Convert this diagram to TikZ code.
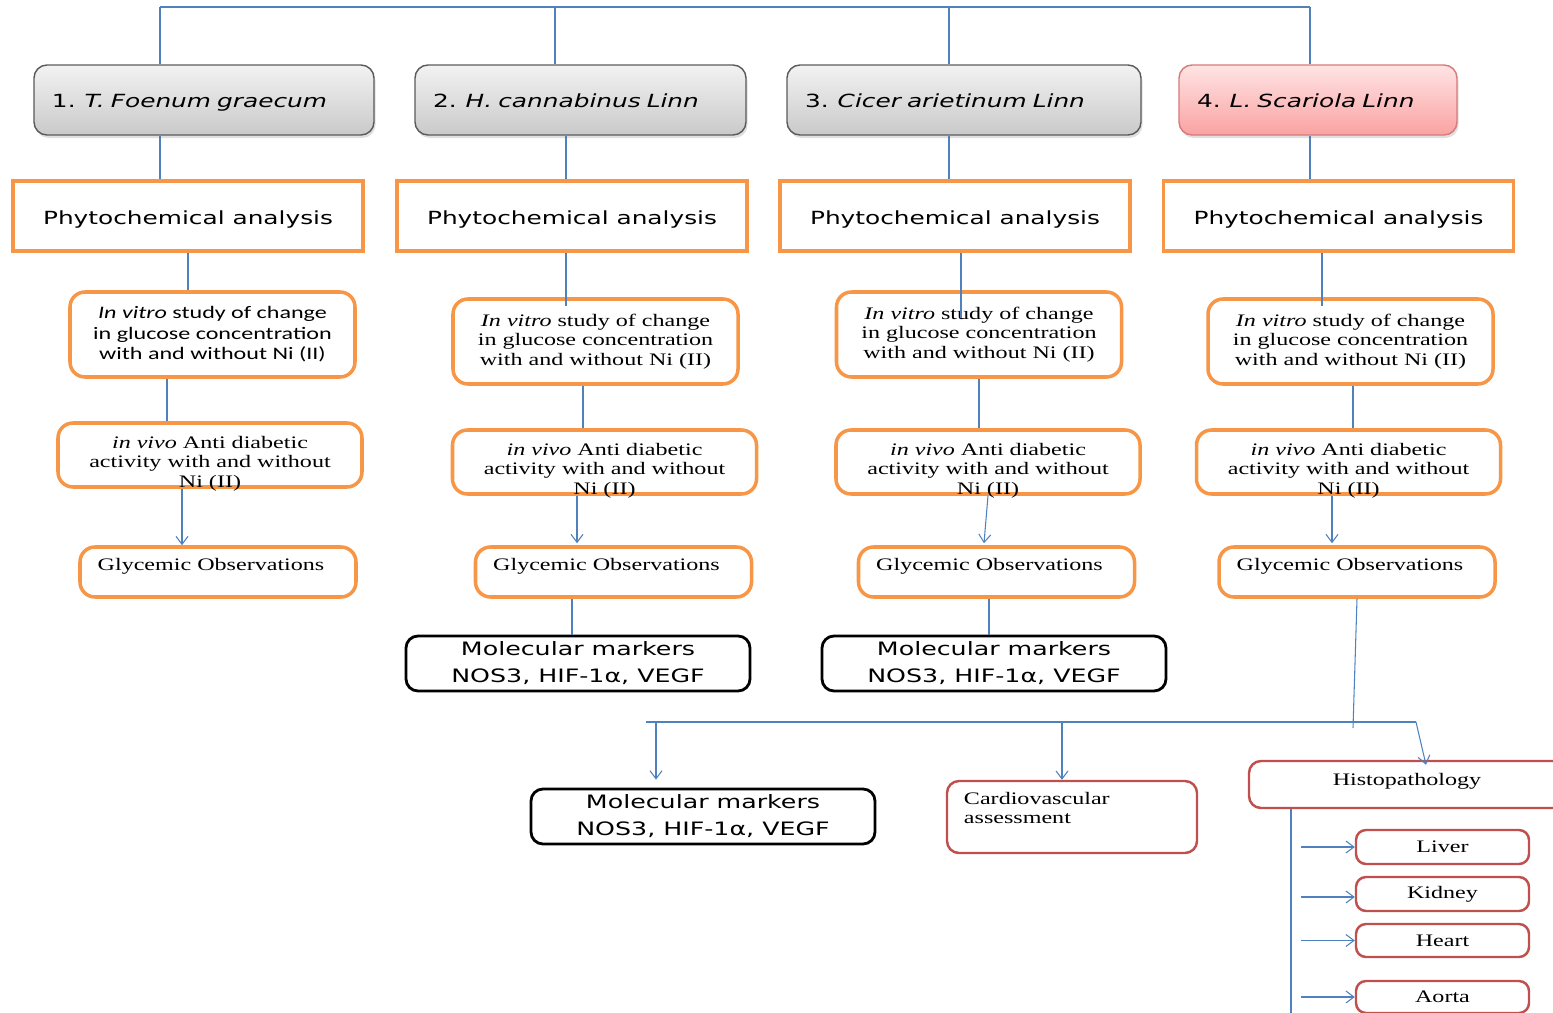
\documentclass[tikz,border=0pt]{standalone}
\usepackage{fontspec}
\setmainfont[FakeStretch=1.37]{Liberation Serif}
\newfontfamily\vsans[FakeStretch=1.37]{DejaVu Sans}
\newfontfamily\csans[FakeStretch=1.37]{Carlito}
\usetikzlibrary{arrows.meta, shadows}

\definecolor{boxorange}{RGB}{247,150,70}
\definecolor{boxred}{RGB}{192,80,77}
\definecolor{lineblue}{RGB}{79,129,189}
\definecolor{plantborder}{RGB}{90,90,90}
\definecolor{pinktop}{RGB}{255,228,228}
\definecolor{pinkbot}{RGB}{250,162,162}
\definecolor{pinkborder}{RGB}{214,122,122}

\begin{document}
\begin{tikzpicture}[x=0.2mm, y=-0.2mm,
    every node/.style = {font=\fontsize{10pt}{11.2pt}\selectfont, text=black},
          link/.style = {draw=lineblue, line width=0.6pt},
         arrow/.style = {link, -{Straight Barb[length=1.6mm, width=2.4mm]}},
         plant/.style = {draw=plantborder, line width=0.8pt, rounded corners=2.6mm,
                         top color=gray!10, bottom color=gray!42,
                         minimum height=14mm, inner xsep=3.6mm, align=left,
                         text height=11pt, text depth=2.4pt,
                         drop shadow={opacity=0.25, shadow xshift=0.3mm, shadow yshift=-0.6mm},
                         font=\vsans\fontsize{10.3pt}{12pt}\selectfont},
     pinkplant/.style = {plant, draw=pinkborder, top color=pinktop, bottom color=pinkbot},
         phyto/.style = {draw=boxorange, line width=2pt, minimum width=70mm, minimum height=14mm,
                         text height=12pt, text depth=2.4pt,
                         font=\vsans\fontsize{10.3pt}{12pt}\selectfont},
         vitro/.style = {draw=boxorange, line width=2pt, rounded corners=3mm,
                         minimum width=57mm, minimum height=17mm, align=center},
      vitrosan/.style = {vitro, font=\csans\fontsize{10pt}{11.7pt}\selectfont},
          vtxt/.style = {align=center, yshift=-1.7mm},
          vivo/.style = {draw=boxorange, line width=2pt, rounded corners=3mm,
                         minimum width=60.8mm, minimum height=12.8mm,
                         label={[vtxt]center:{\textit{in vivo} Anti diabetic\\activity with and without\\Ni (II)}}},
          gtxt/.style = {anchor=north, yshift=-1.4mm},
          glyc/.style = {draw=boxorange, line width=2pt, rounded corners=3mm,
                         minimum width=55.2mm, minimum height=10mm,
                         label={[gtxt, xshift=-1.4mm]north:Glycemic Observations}},
       markers/.style = {draw=black, line width=1.6pt, rounded corners=2.4mm,
                         minimum width=68.8mm, minimum height=11mm, inner ysep=1pt, align=center,
                         font=\vsans\fontsize{10.5pt}{15.4pt}\selectfont},
        redbox/.style = {draw=boxred, line width=1.4pt, rounded corners=2.4mm},
          ctxt/.style = {anchor=north west, align=left, xshift=2.4mm, yshift=-1.2mm},
         organ/.style = {redbox, rounded corners=2mm, minimum width=34.6mm, minimum height=6.8mm}]
  \clip (0,0) rectangle (1553,1013);
  % plants
  \node (p1) [plant, text width=60.8mm] at (204,100) {1. \textit{T. Foenum graecum}};
  \node (p2) [plant, text width=59mm]   at (580.5,100) {2. \textit{H. cannabinus Linn}};
  \node (p3) [plant, text width=63.6mm] at (964,100) {3. \textit{Cicer arietinum Linn}};
  \node (p4) [pinkplant, text width=48.4mm] at (1318,100) {4. \textit{L. Scariola Linn}};
  % phytochemical analysis
  \node (ph1) [phyto] at (188,216) {Phytochemical analysis};
  \node (ph2) [phyto] at (572,216) {Phytochemical analysis};
  \node (ph3) [phyto] at (955,216) {Phytochemical analysis};
  \node (ph4) [phyto] at (1338.5,216) {Phytochemical analysis};
  % in vitro
  \node (vt1) [vitrosan] at (212.5,334.5) {\textit{In vitro} study of change\\in glucose concentration\\with and without Ni (II)};
  \node (vt2) [vitro] at (595.5,341.5) {\textit{In vitro} study of change\\in glucose concentration\\with and without Ni (II)};
  \node (vt3) [vitro] at (979,334.5) {\textit{In vitro} study of change\\in glucose concentration\\with and without Ni (II)};
  \node (vt4) [vitro] at (1350.5,341.5) {\textit{In vitro} study of change\\in glucose concentration\\with and without Ni (II)};
  % in vivo
  \node (vv1) [vivo] at (210,455) {};
  \node (vv2) [vivo] at (604.5,462) {};
  \node (vv3) [vivo] at (988,462) {};
  \node (vv4) [vivo] at (1348.5,462) {};
  % glycemic
  \node (gly1) [glyc] at (218,572) {};
  \node (gly2) [glyc] at (613.5,572) {};
  \node (gly3) [glyc] at (996.5,572) {};
  \node (gly4) [glyc] at (1357,572) {};
  % markers
  \node (mk2) [markers] at (578,663.5) {Molecular markers\\NOS3, HIF-1α, VEGF};
  \node (mk3) [markers] at (994,663.5) {Molecular markers\\NOS3, HIF-1α, VEGF};
  \node (mk4) [markers] at (703,816.5) {Molecular markers\\NOS3, HIF-1α, VEGF};
  % assessments
  \node (cv) [redbox, minimum width=50mm, minimum height=14.4mm,
              label={[ctxt]north west:{Cardiovascular\\assessment}}] at (1072,817) {};
  \node (histo) [redbox, minimum width=63.2mm, minimum height=9.4mm,
                 label={[gtxt]north:Histopathology}] at (1407,784.5) {};
  \node (liver)  [organ] at (1442.5,847) {Liver};
  \node (kidney) [organ] at (1442.5,894) {Kidney};
  \node (heart)  [organ, minimum height=6.6mm] at (1442.5,940.5) {Heart};
  \node (aorta)  [organ, minimum height=6.4mm] at (1442.5,997) {Aorta};
  % top bus
  \coordinate (busL) at (160,7);
  \coordinate (busR) at (1310,7);
  \draw[link] (busL) -- (busR);
  \draw[link] (busL) -- (busL |- p1.north);
  \draw[link] ([xshift=-5.1mm]p2.north |- busL) -- ([xshift=-5.1mm]p2.north);
  \draw[link] ([xshift=-3mm]p3.north |- busL) -- ([xshift=-3mm]p3.north);
  \draw[link] (busR) -- (busR |- p4.north);
  % plants to phytochemical
  \draw[link] (busL |- p1.south) -- (busL |- ph1.north);
  \draw[link] ([xshift=-2.9mm]p2.south) -- ([xshift=-2.9mm]p2.south |- ph2.north);
  \draw[link] ([xshift=-3mm]p3.south) -- ([xshift=-3mm]p3.south |- ph3.north);
  \draw[link] (busR |- p4.south) -- (busR |- ph4.north);
  % phytochemical to in vitro
  \draw[link] (ph1.south) -- (ph1.south |- vt1.north);
  \draw[link] ([xshift=-1.2mm]ph2.south) -- ([xshift=-1.2mm, yshift=-1.8mm]ph2.south |- vt2.north);
  \draw[link] ([xshift=1.2mm]ph3.south) -- ([xshift=1.2mm, yshift=-5.6mm]ph3.south |- vt3.north);
  \draw[link] ([xshift=-3.3mm]ph4.south) -- ([xshift=-3.3mm, yshift=-1.8mm]ph4.south |- vt4.north);
  % in vitro to in vivo
  \draw[link] ([xshift=-9.1mm]vt1.south) -- ([xshift=-9.1mm]vt1.south |- vv1.north);
  \draw[link] ([xshift=-2.5mm]vt2.south) -- ([xshift=-2.5mm]vt2.south |- vv2.north);
  \draw[link] (vt3.south) -- (vt3.south |- vv3.north);
  \draw[link] ([xshift=0.5mm]vt4.south) -- ([xshift=0.5mm]vt4.south |- vv4.north);
  % in vivo to glycemic
  \draw[arrow] ([xshift=-5.6mm]vv1.south) -- ([xshift=-5.6mm]vv1.south |- gly1.north);
  \draw[arrow] ([xshift=-5.5mm]vv2.south) -- ([xshift=-5.5mm, yshift=0.4mm]vv2.south |- gly2.north);
  \draw[arrow] (vv3.south) -- ([xshift=-0.8mm, yshift=0.4mm]vv3.south |- gly3.north);
  \draw[arrow] ([xshift=-3.3mm]vv4.south) -- ([xshift=-3.3mm, yshift=0.4mm]vv4.south |- gly4.north);
  % glycemic to markers
  \draw[link] ([xshift=-8.3mm]gly2.south) -- ([xshift=-8.3mm]gly2.south |- mk2.north);
  \draw[link] ([xshift=-1.5mm]gly3.south) -- ([xshift=-1.5mm]gly3.south |- mk3.north);
  % lower bus
  \coordinate (drop) at (1353,728);
  \coordinate (busL2) at (646,722);
  \coordinate (busR2) at (1416,722);
  \draw[link] (gly4.south) -- (drop);
  \draw[link] (busL2) -- (busR2);
  \draw[arrow] ([xshift=-9.4mm]mk4.north |- busL2) -- ([xshift=-9.4mm, yshift=1.6mm]mk4.north);
  \draw[arrow] ([xshift=-2mm]cv.north |- busL2) -- ([xshift=-2mm]cv.north);
  \draw[arrow] (busR2) -- ([xshift=3.8mm, yshift=-1mm]histo.north);
  % histopathology
  \coordinate (hbot) at (1291,1013);
  \coordinate (hx) at (1301,0);
  \draw[link] (hbot |- histo.south) -- (hbot);
  \draw[arrow] (liver.west -| hx) -- (liver.west);
  \draw[arrow] ([yshift=-0.6mm]kidney.west -| hx) -- ([yshift=-0.6mm]kidney.west);
  \draw[arrow] (heart.west -| hx) -- (heart.west);
  \draw[arrow] (aorta.west -| hx) -- (aorta.west);
\end{tikzpicture}
\end{document}
